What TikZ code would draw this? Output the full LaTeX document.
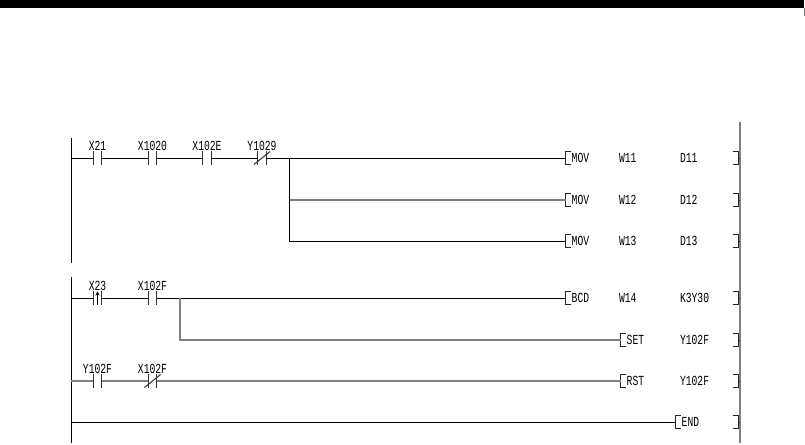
\documentclass[tikz,border=0pt]{standalone}
\usepackage{fontspec}
\newfontfamily\plcfont[FakeStretch=0.7]{Liberation Mono}
\definecolor{plcgray}{RGB}{128,128,128}
\usetikzlibrary{arrows.meta,positioning}
\tikzset{
  rung/.style={black, line width=0.75pt},
  softrung/.style={plcgray, line width=1.4pt},
  contact/.style={minimum width=6.2pt, minimum height=9.8pt, inner sep=0pt, outer sep=0pt},
  brk/.style={minimum width=3.8pt, minimum height=9.8pt, inner sep=0pt, outer sep=0pt},
  tag/.style={font=\plcfont\fontsize{10.4}{10.4}\selectfont, inner sep=0pt, outer sep=0pt},
}
\begin{document}
\begin{tikzpicture}[x=0.75pt, y=-0.75pt]
\useasboundingbox (0,0) rectangle (805,444);
\fill[black] (0,0) rectangle (804,8);
\draw[plcgray, line width=0.5pt] (804.5,8) -- (804.5,16);

% power rails
\coordinate (railA) at (71,138);
\coordinate (railAend) at (71,263);
\coordinate (railB) at (71,277);
\coordinate (railBend) at (71,443);
\coordinate (railR) at (740,122);
\coordinate (railRend) at (740,443);
\coordinate (branchA) at (289.7,158);
\coordinate (branchB) at (180,298);
\draw[rung] (railA) -- (railAend);
\draw[rung] (railB) -- (railBend);
\draw[plcgray, line width=1.4pt] (railR) -- (railRend);

% contacts
\node[contact] (x21) at (97.5,158) {};
\node[contact] (x1020) at (152.5,158) {};
\node[contact] (x102e) at (207,158) {};
\node[contact] (y1029) at (262,158) {};
\node[contact] (x23) at (97.5,298) {};
\node[contact] (x102f) at (152.5,298) {};
\node[contact] (y102f) at (97.5,381) {};
\node[contact] (x102fn) at (152.5,381) {};
\foreach \c in {x21,x1020,x102e,y1029,x23,x102f,y102f,x102fn}
  \draw[black!80, line width=0.8pt] (\c.north west) -- (\c.south west) (\c.north east) -- (\c.south east);
\foreach \c in {y1029,x102fn}
  \draw[black!80, line width=0.8pt] ([xshift=-3pt]\c.south west) -- ([xshift=3pt]\c.north east);
\draw[black, line width=0.7pt, -{Stealth[length=3pt,width=3pt]}] (x23.south) -- (x23.north);

% contact labels
\node[tag, above=1pt of x21] (x21tag) {X21};
\node[tag, above=1pt of x1020] (x1020tag) {X1020};
\node[tag, above=1pt of x102e] (x102etag) {X102E};
\node[tag, above=1pt of y1029] (y1029tag) {Y1029};
\node[tag, above=1pt of x23] (x23tag) {X23};
\node[tag, above=1pt of x102f] (x102ftag) {X102F};
\node[tag, above=1pt of y102f] (y102ftag) {Y102F};
\node[tag, above=1pt of x102fn] (x102fntag) {X102F};

% opening brackets
\node[brk] (mova) at (568.5,158) {};
\node[brk] (movb) at (568.5,200) {};
\node[brk] (movc) at (568.5,241) {};
\node[brk] (bcd) at (568.5,298) {};
\node[brk] (set) at (623.5,340) {};
\node[brk] (rst) at (623.5,381) {};
\node[brk] (endi) at (678.5,422) {};
\foreach \b in {mova,movb,movc,bcd,set,rst,endi}
  \draw[black!85, line width=0.75pt] (\b.north east) -- (\b.north west) -- (\b.south west) -- (\b.south east);

% closing brackets
\node[brk] (cmova) at (735.5,158) {};
\node[brk] (cmovb) at (735.5,200) {};
\node[brk] (cmovc) at (735.5,241) {};
\node[brk] (cbcd) at (735.5,298) {};
\node[brk] (cset) at (735.5,340) {};
\node[brk] (crst) at (735.5,381) {};
\node[brk] (cendi) at (735.5,422) {};
\foreach \b in {cmova,cmovb,cmovc,cbcd,cset,crst,cendi}{
  \draw[black!85, line width=0.75pt] (\b.north west) -- (\b.north east) -- (\b.south east) -- (\b.south west);
  \draw[black!85, line width=0.75pt] (\b.east) -- (\b.east -| railR);
}

% instructions
\node[tag, right=0.5pt of mova] (movatxt) {MOV};
\node[tag, right=0.5pt of movb] (movbtxt) {MOV};
\node[tag, right=0.5pt of movc] (movctxt) {MOV};
\node[tag, right=0.5pt of bcd] (bcdtxt) {BCD};
\node[tag, right=0.5pt of set] (settxt) {SET};
\node[tag, right=0.5pt of rst] (rsttxt) {RST};
\node[tag, right=0.5pt of endi] (enditxt) {END};
\node[tag, anchor=west] (w11) at (619,158) {W11};
\node[tag, anchor=west] (w12) at (619,200) {W12};
\node[tag, anchor=west] (w13) at (619,241) {W13};
\node[tag, anchor=west] (w14) at (619,298) {W14};
\node[tag, anchor=west] (d11) at (680,158) {D11};
\node[tag, anchor=west] (d12) at (680,200) {D12};
\node[tag, anchor=west] (d13) at (680,241) {D13};
\node[tag, anchor=west] (k3y30) at (680,298) {K3Y30};
\node[tag, anchor=west] (setdev) at (680,340) {Y102F};
\node[tag, anchor=west] (rstdev) at (680,381) {Y102F};

% rungs
\draw[rung] (railA |- x21) -- (x21);
\draw[rung] (x21) -- (x1020);
\draw[rung] (x1020) -- (x102e);
\draw[rung] (x102e) -- (y1029);
\draw[rung] (y1029) -- (mova);
\draw[rung] (branchA) |- (movc);
\draw[softrung] (branchA |- movb) -- (movb);
\draw[rung] (railB |- x23) -- (x23);
\draw[rung] (x23) -- (x102f);
\draw[rung] (x102f) -- (bcd);
\draw[softrung] (branchB) |- (set);
\draw[softrung] (railB |- y102f) -- (y102f);
\draw[softrung] (y102f) -- (x102fn);
\draw[softrung] (x102fn) -- (rst);
\draw[rung] (railB |- endi) -- (endi);
\end{tikzpicture}
\end{document}
